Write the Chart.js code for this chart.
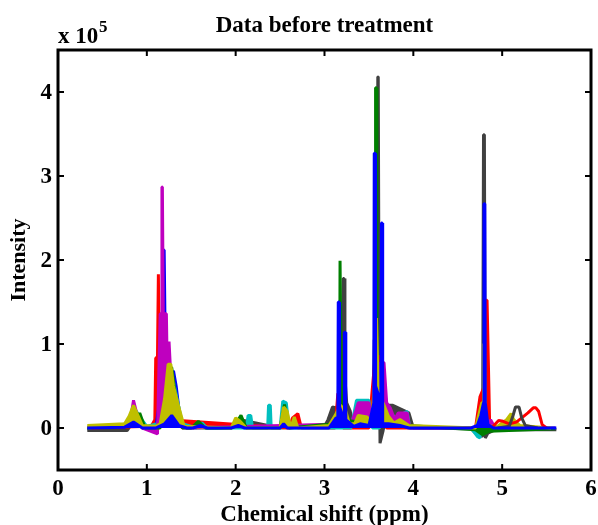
<!DOCTYPE html>
<html>
<head>
<meta charset="utf-8">
<title>Data before treatment</title>
<script src="https://cdn.jsdelivr.net/npm/chart.js@4"></script>
<style>
  body { margin: 0; background: #fff; }
  canvas { display: block; }
</style>
</head>
<body>
<canvas id="chart" width="598" height="525"></canvas>
<script>
const xTicks = [0, 1, 2, 3, 4, 5, 6];
const yTicks = [0, 1, 2, 3, 4];

// intensities are in units of 10^5
// ppm and value lists are kept in rows of five so they stay lined up
const grayPpm = [
    0.33, 0.78, 0.86, 0.95, 1.1,
    1.3, 1.45, 1.95, 2.05, 2.5,
    3.0, 3.04, 3.09, 3.13, 3.18,
    3.2, 3.21, 3.22, 3.23, 3.25,
    3.29, 3.33, 3.55, 3.56, 3.59,
    3.6, 3.605, 3.615, 3.625, 3.635,
    3.66, 3.72, 3.77, 3.95, 4.0,
    4.65, 4.72, 4.78, 4.79, 4.8,
    4.81, 4.84, 4.9, 5.0, 5.61];
const grayValues = [
    -0.03, -0.03, 0.1, 0.0, -0.02,
    0.2, 0.0, 0.0, 0.1, 0.0,
    0.02, 0.1, 0.25, 0.24, 0.3,
    0.9, 1.78, 1.78, 0.6, 0.3,
    0.2, 0.0, 0.3, 1.05, 1.05,
    4.18, 4.18, 1.05, -0.18, -0.18,
    -0.03, 0.27, 0.27, 0.18, 0.0,
    -0.01, -0.08, -0.1, 3.49, 3.49,
    -0.12, -0.06, -0.03, -0.02, -0.02];
const grayBumpPpm = [4.95, 5.08, 5.12, 5.15, 5.19, 5.22, 5.26, 5.4];
const grayBumpValues = [0.0, 0.02, 0.14, 0.25, 0.25, 0.12, 0.03, 0.0];

const redPpm = [
    0.33, 1.05, 1.09, 1.1, 1.12,
    1.13, 1.135, 1.145, 1.2, 2.6,
    2.64, 2.7, 2.74, 3.12, 3.15,
    3.175, 3.21, 3.5, 3.57, 3.62,
    3.64, 3.7, 4.7, 4.75, 4.8,
    4.82, 4.83, 4.86, 5.5];
const redValues = [
    0.0, 0.02, 0.1, 0.83, 0.85,
    1.83, 1.83, 0.3, 0.1, 0.0,
    0.12, 0.17, 0.0, 0.0, 0.41,
    0.41, 0.0, 0.0, 0.85, 0.85,
    0.1, 0.0, 0.0, 0.37, 0.5,
    1.52, 1.52, 0.0, 0.0];
const redTailPpm = [4.88, 4.96, 5.01, 5.08, 5.16, 5.22, 5.29, 5.35, 5.38, 5.41, 5.45, 5.5];
const redTailValues = [0.0, 0.09, 0.08, 0.05, 0.07, 0.12, 0.18, 0.24, 0.24, 0.2, 0.04, 0.0];

const blueBackPpm = [1.1, 1.17, 1.185, 1.195, 1.21, 1.26, 1.3, 1.33, 1.37, 1.42];
const blueBackValues = [0.0, 0.5, 2.12, 2.12, 0.75, 0.6, 0.68, 0.5, 0.15, 0.0];

const cyanPpm = [
    0.33, 0.8, 0.87, 0.93, 1.0,
    1.12, 1.2, 1.25, 1.3, 1.35,
    1.4, 1.56, 1.62, 1.68, 2.12,
    2.14, 2.17, 2.19, 2.36, 2.37,
    2.39, 2.4, 2.5, 2.53, 2.57,
    2.6, 3.3, 3.36, 3.5, 3.54,
    3.62, 3.66, 3.72, 3.8, 3.93,
    3.96, 4.65, 4.72, 4.75, 4.8,
    4.85, 5.6];
const cyanValues = [
    0.0, 0.05, 0.22, 0.12, 0.02,
    0.05, 0.3, 0.5, 0.55, 0.3,
    0.05, 0.0, 0.06, 0.0, 0.0,
    0.15, 0.15, 0.0, 0.0, 0.27,
    0.27, 0.0, 0.0, 0.32, 0.3,
    0.0, 0.0, 0.33, 0.33, 0.0,
    0.0, 0.5, 0.2, 0.12, 0.2,
    0.0, 0.0, -0.1, -0.12, 0.2,
    0.0, 0.0];

const magentaPpm = [
    0.33, 0.78, 0.83, 0.85, 0.88,
    0.95, 1.12, 1.15, 1.16, 1.17,
    1.175, 1.185, 1.22, 1.23, 1.25,
    1.26, 1.28, 1.32, 1.4, 3.3,
    3.35, 3.38, 3.5, 3.53, 3.6,
    3.63, 3.67, 3.7, 3.74, 3.79,
    3.83, 3.93, 3.96, 4.84, 4.87,
    4.92, 5.6];
const magentaValues = [
    0.01, 0.03, 0.2, 0.33, 0.2,
    0.0, -0.07, 1.36, 1.36, 2.87,
    2.87, 1.36, 1.36, 0.7, 1.03,
    1.03, 0.4, 0.1, 0.0, 0.05,
    0.2, 0.3, 0.3, 0.1, 0.2,
    0.78, 0.78, 0.3, 0.24, 0.1,
    0.18, 0.18, 0.0, 0.0, 0.1,
    0.0, 0.0];

const greenPpm = [
    0.33, 0.88, 0.92, 0.98, 1.15,
    1.22, 1.26, 1.28, 1.32, 1.4,
    1.5, 1.58, 1.66, 1.95, 2.03,
    2.06, 2.12, 2.5, 2.55, 2.6,
    3.1, 3.17, 3.175, 3.185, 3.19,
    3.2, 3.5, 3.57, 3.575, 3.585,
    3.59, 3.62, 4.7, 4.78, 4.85,
    5.6];
const greenValues = [
    0.0, 0.05, 0.18, 0.0, 0.0,
    0.3, 0.72, 0.72, 0.4, 0.0,
    0.0, 0.08, 0.0, 0.0, 0.1,
    0.15, 0.0, 0.0, 0.28, 0.0,
    0.05, 0.05, 1.99, 1.99, 0.3,
    0.1, 0.05, 0.05, 4.05, 4.05,
    0.3, 0.05, -0.02, -0.08, -0.04,
    -0.01];

const yellowPpm = [
    0.33, 0.75, 0.8, 0.85, 0.9,
    0.95, 1.1, 1.15, 1.2, 1.24,
    1.27, 1.3, 1.36, 1.42, 1.95,
    2.0, 2.05, 2.12, 2.5, 2.54,
    2.58, 2.62, 2.66, 2.7, 3.05,
    3.12, 3.18, 3.24, 3.28, 3.34,
    3.38, 3.48, 3.53, 3.57, 3.585,
    3.6, 3.62, 3.66, 3.72, 3.78,
    3.85, 3.95, 4.7, 4.77, 4.785,
    4.79, 4.8, 4.81, 4.83, 4.95,
    5.05, 5.1, 5.13, 5.2, 5.55];
const yellowValues = [
    0.03, 0.05, 0.14, 0.27, 0.15,
    0.03, 0.02, 0.05, 0.35, 0.76,
    0.76, 0.5, 0.25, 0.02, 0.0,
    0.12, 0.08, 0.0, 0.0, 0.25,
    0.2, 0.0, 0.13, 0.0, 0.03,
    0.15, 0.27, 0.2, 0.05, 0.05,
    0.15, 0.13, 0.05, 0.65, 1.31,
    0.65, 0.1, 0.3, 0.14, 0.06,
    0.1, 0.03, 0.0, 0.3, 0.3,
    1.0, 1.0, 0.1, 0.02, 0.02,
    0.1, 0.17, 0.1, 0.03, 0.0];

const bluePpm = [
    0.33, 0.75, 0.85, 0.95, 1.1,
    1.2, 1.28, 1.36, 1.45, 1.52,
    1.6, 1.68, 1.95, 2.03, 2.1,
    2.5, 2.54, 2.58, 2.68, 3.05,
    3.13, 3.15, 3.155, 3.165, 3.17,
    3.22, 3.225, 3.235, 3.24, 3.33,
    3.4, 3.5, 3.555, 3.56, 3.57,
    3.575, 3.635, 3.64, 3.65, 3.655,
    3.72, 3.85, 3.95, 4.65, 4.72,
    4.76, 4.79, 4.795, 4.805, 4.81,
    4.84, 4.9, 5.61];
const blueValues = [
    0.0, 0.01, 0.07, 0.0, 0.0,
    0.05, 0.15, 0.03, 0.0, 0.0,
    0.03, 0.0, 0.0, 0.03, 0.0,
    0.0, 0.05, 0.0, 0.0, 0.0,
    0.12, 0.12, 1.5, 1.5, 0.25,
    0.1, 1.14, 1.14, 0.1, 0.02,
    0.05, 0.03, 0.3, 3.27, 3.27,
    0.5, 0.3, 2.44, 2.44, 0.05,
    0.05, 0.03, 0.0, 0.0, 0.03,
    0.15, 0.3, 2.67, 2.67, 0.3,
    0.04, 0.0, 0.0];

const spectra = [];
function addSpectrum(color, ppm, values, filled) {
    spectra.push({
        data: ppm.map((p, i) => ({ x: p, y: values[i] })),
        borderColor: color,
        backgroundColor: color,
        borderWidth: 3,
        borderJoinStyle: 'bevel',
        pointRadius: 0,
        tension: 0,
        fill: filled ? 'origin' : false
    });
}

// listed back to front
addSpectrum('#404040', grayPpm, grayValues, true);
addSpectrum('#ff0000', redPpm, redValues, true);
addSpectrum('#0000ff', blueBackPpm, blueBackValues, true);
addSpectrum('#00bfbf', cyanPpm, cyanValues, true);
addSpectrum('#bf00bf', magentaPpm, magentaValues, true);
addSpectrum('#007f00', greenPpm, greenValues, true);
addSpectrum('#bfbf00', yellowPpm, yellowValues, true);
addSpectrum('#ff0000', redTailPpm, redTailValues, false);
addSpectrum('#404040', grayBumpPpm, grayBumpValues, false);
addSpectrum('#0000ff', bluePpm, blueValues, true);

const serif = '"Liberation Serif", "Times New Roman", serif';

// matlab style box, inward ticks on all sides and the exponent label
const boxPlugin = {
    id: 'box',
    afterDraw(chart) {
        const { ctx, chartArea: a, scales } = chart;
        ctx.save();
        ctx.strokeStyle = '#000';
        ctx.lineWidth = 2;
        xTicks.forEach(v => {
            const px = scales.x.getPixelForValue(v);
            ctx.beginPath();
            ctx.moveTo(px, a.bottom); ctx.lineTo(px, a.bottom - 6);
            ctx.moveTo(px, a.top); ctx.lineTo(px, a.top + 6);
            ctx.stroke();
        });
        yTicks.forEach(v => {
            const py = scales.y.getPixelForValue(v);
            ctx.beginPath();
            ctx.moveTo(a.left, py); ctx.lineTo(a.left + 6, py);
            ctx.moveTo(a.right, py); ctx.lineTo(a.right - 6, py);
            ctx.stroke();
        });
        ctx.lineWidth = 3;
        ctx.strokeRect(a.left, a.top, a.right - a.left, a.bottom - a.top);

        ctx.fillStyle = '#000';
        ctx.textBaseline = 'alphabetic';
        ctx.textAlign = 'left';
        ctx.font = 'bold 23px ' + serif;
        ctx.fillText('x 10', 58, 43);
        ctx.font = 'bold 17px ' + serif;
        ctx.fillText('5', 99, 32);
        ctx.restore();
    }
};

new Chart(document.getElementById('chart'), {
    type: 'line',
    data: { datasets: spectra.slice().reverse() },
    plugins: [boxPlugin],
    options: {
        responsive: false,
        animation: false,
        layout: { padding: { right: 7 } },
        plugins: {
            legend: { display: false },
            tooltip: { enabled: false },
            title: {
                display: true,
                text: 'Data before treatment',
                color: '#000',
                fullSize: false,
                font: { family: serif, size: 23, weight: 'bold' },
                padding: { top: 12, bottom: 10.4 }
            }
        },
        scales: {
            x: {
                type: 'linear',
                min: 0,
                max: 6,
                afterBuildTicks: axis => { axis.ticks = xTicks.map(v => ({ value: v })); },
                afterFit: axis => { axis.height = 55; axis.paddingLeft = 0; axis.paddingRight = 0; },
                grid: { display: false, drawTicks: false },
                border: { display: false },
                ticks: { color: '#000', padding: 5, maxRotation: 0, font: { family: serif, size: 23, weight: 'bold' } },
                title: {
                    display: true,
                    text: 'Chemical shift (ppm)',
                    color: '#000',
                    padding: { top: 0, bottom: -4 },
                    font: { family: serif, size: 23, weight: 'bold' }
                }
            },
            y: {
                min: -0.5,
                max: 4.5,
                afterBuildTicks: axis => { axis.ticks = yTicks.map(v => ({ value: v })); },
                afterFit: axis => { axis.width = 58; },
                grid: { display: false, drawTicks: false },
                border: { display: false },
                ticks: { color: '#000', padding: 6, labelOffset: 1, font: { family: serif, size: 23, weight: 'bold' } },
                title: {
                    display: true,
                    text: 'Intensity',
                    color: '#000',
                    padding: { top: 6, bottom: 0 },
                    font: { family: serif, size: 22, weight: 'bold' }
                }
            }
        }
    }
});
</script>
</body>
</html>
